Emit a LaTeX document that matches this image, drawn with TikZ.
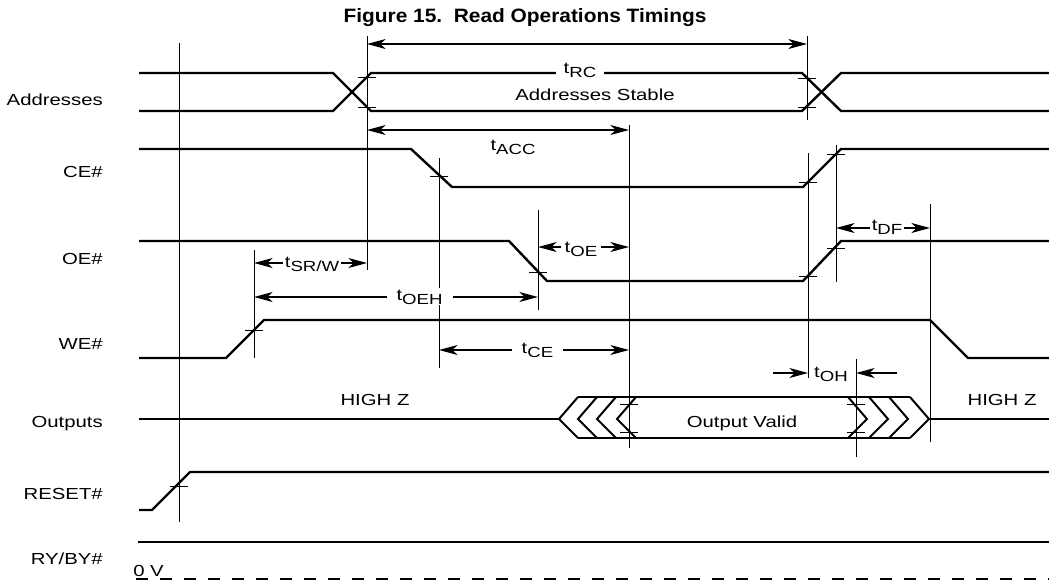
\documentclass[tikz,border=0pt]{standalone}
\usepackage{fontspec}
\setmainfont{Liberation Sans}[FakeStretch=1.27]
\newfontfamily\titlefont{Liberation Sans Bold}[FakeStretch=1.08]
\usetikzlibrary{arrows.meta}
\newcommand\tsig[1]{t\raisebox{-3pt}{\fontsize{11pt}{11pt}\selectfont #1}}
\begin{document}
\begin{tikzpicture}[x=0.75pt,y=-0.75pt,
  sig/.style={line width=1.8pt},
  chev/.style={line width=1.5pt},
  vline/.style={line width=0.7pt},
  tickm/.style={line width=0.7pt},
  lt/.style={line width=0.8pt,-{Stealth[length=14pt,width=7.5pt,inset=4pt]}},
  both/.style={line width=0.8pt,{Stealth[length=14pt,width=7.5pt,inset=4pt]}-{Stealth[length=14pt,width=7.5pt,inset=4pt]}},
  lab/.style={font=\fontsize{12pt}{14pt}\selectfont, inner sep=0pt},
  sl/.style={lab, anchor=base east},
  tlab/.style={lab, anchor=base, fill=white, inner ysep=1pt}]
\useasboundingbox (0,0) rectangle (1049,582);

% title
\node[font=\titlefont\fontsize{14.5pt}{17pt}\selectfont, anchor=base, inner sep=0pt] (title) at (525,22) {Figure 15.\ \ Read Operations Timings};

% signal names
\node[sl] (nA) at (103,105) {Addresses};
\node[sl] (nCE) at (103,177) {CE\#};
\node[sl] (nOE) at (103,264) {OE\#};
\node[sl] (nWE) at (103,349) {WE\#};
\node[sl] (nOut) at (103,427) {Outputs};
\node[sl] (nRst) at (103,499) {RESET\#};
\node[sl] (nRy) at (103,564) {RY/BY\#};

% vertical reference lines
\foreach \x/\a/\b in {179/43/522, 367/36/270, 807/36/120, 629/125/448, 439/158/368,
  538/210/310, 254/250/358, 808/153/378, 836/145/282, 930/204/442, 856/359/457}
  \draw[vline] (\x,\a) -- (\x,\b);

% signals
\draw[sig] (139,73) -- (333,73) -- (371,111) -- (802,111) -- (841,73) -- (1049,73);
\draw[sig] (139,111) -- (333,111) -- (371,73) -- (802,73) -- (841,111) -- (1049,111);
\draw[sig] (139,149) -- (411,149) -- (452,187) -- (803,187) -- (841,149) -- (1049,149);
\draw[sig] (139,241) -- (509,241) -- (547,281) -- (803,281) -- (841,241) -- (1049,241);
\draw[sig] (139,358) -- (226,358) -- (264,320) -- (930,320) -- (968,358) -- (1049,358);
\draw[sig] (139,510) -- (152,510) -- (190,472) -- (1049,472);
\draw[sig] (138,542) -- (1049,542);
\draw[line width=1.5pt, dash pattern=on 9pt off 9pt] (136,579) -- (1049,579);

% outputs
\draw[sig] (139,419) -- (559,419);
\draw[sig] (929,419) -- (1049,419);
\draw[chev] (578,397) -- (910,397);
\draw[chev] (578,438) -- (910,438);
\foreach \t in {559,578,597,617}
  \draw[chev] (\t+19,397) -- (\t,419) -- (\t+19,438);
\foreach \t in {867,888,908,929}
  \draw[chev] (\t-19,397) -- (\t,419) -- (\t-19,438);

% tick marks
\foreach \x/\y in {367/77, 367/107, 807/78, 807/107, 439/176, 808/182, 836/154,
  538/272, 808/276, 836/248, 254/330, 629/404, 629/432, 856/404, 856/432, 179/486}
  \draw[tickm] (\x-9,\y) -- (\x+9,\y);

% dimension arrows
\coordinate (rc1) at (367,44);  \coordinate (rc2) at (807,44);
\coordinate (ac1) at (367,130); \coordinate (ac2) at (629,130);
\coordinate (sr1) at (254,263); \coordinate (sr2) at (367,263);
\coordinate (oh1) at (254,297); \coordinate (oh2) at (538,297);
\coordinate (oe1) at (538,247); \coordinate (oe2) at (629,247);
\coordinate (ce1) at (439,350); \coordinate (ce2) at (629,350);
\coordinate (df1) at (836,228); \coordinate (df2) at (930,228);
\coordinate (ho1) at (773,373); \coordinate (ho2) at (808,373);
\coordinate (ho3) at (897,373); \coordinate (ho4) at (856,373);
\draw[both] (rc1) -- (rc2);
\draw[both] (ac1) -- (ac2);
\draw[both] (sr1) -- (sr2);
\draw[both] (oh1) -- (oh2);
\draw[both] (oe1) -- (oe2);
\draw[both] (ce1) -- (ce2);
\draw[both] (df1) -- (df2);
\draw[lt] (ho1) -- (ho2);
\draw[lt] (ho3) -- (ho4);

% timing labels
\node[tlab, inner xsep=6pt] (lRC) at (580,73.5) {\tsig{RC}};
\node[lab, anchor=base] (lACC) at (513,150.5) {\tsig{ACC}};
\node[tlab, inner xsep=1.5pt] (lSR) at (312,267) {\tsig{SR/W}};
\node[tlab, inner xsep=7.5pt] (lOEH) at (419.5,300) {\tsig{OEH}};
\node[tlab, inner xsep=3pt] (lOE) at (581,252) {\tsig{OE}};
\node[tlab, inner xsep=7pt] (lCE) at (537.5,353) {\tsig{CE}};
\node[tlab, inner xsep=1pt] (lDF) at (887,230) {\tsig{DF}\hspace{8pt}};
\node[lab, anchor=base] (lOH) at (831,377) {\tsig{OH}};

% other texts
\node[lab, anchor=base] (stable) at (595,100) {Addresses Stable};
\node[lab, anchor=base] (hz1) at (375,405) {HIGH Z};
\node[lab, anchor=base] (hz2) at (1002,405) {HIGH Z};
\node[lab, anchor=base] (valid) at (742,427) {Output Valid};
\node[lab, anchor=base west] (zv) at (133,576) {0 V};
\end{tikzpicture}
\end{document}
